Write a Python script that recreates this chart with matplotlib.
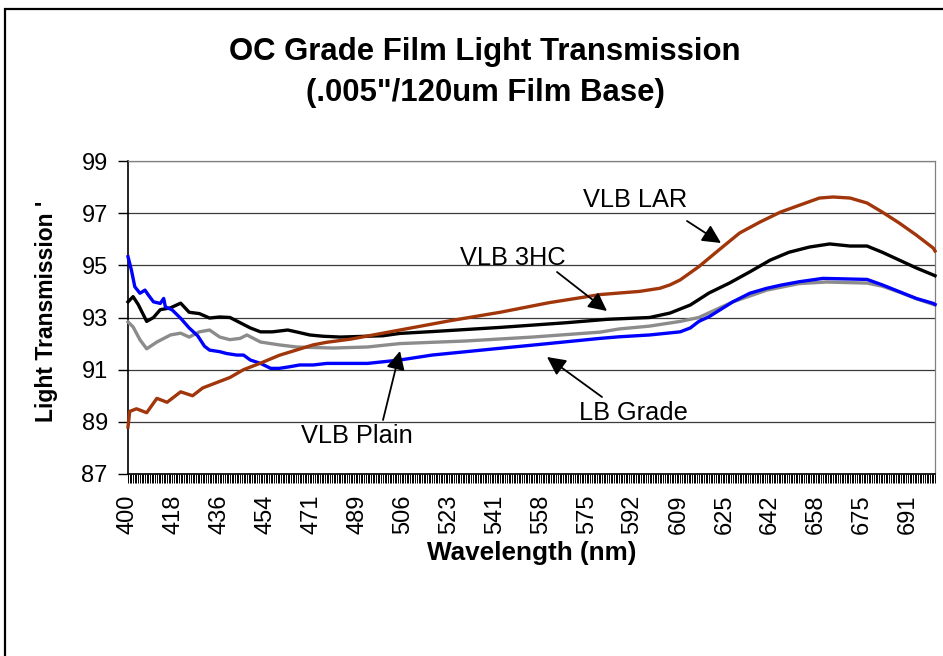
import numpy as np
import matplotlib
matplotlib.use("Agg")
import matplotlib.pyplot as plt
from matplotlib.patches import Rectangle

plt.rcParams['font.family'] = ['Liberation Sans', 'DejaVu Sans']

# ---- data (sample index along the category axis, transmission %) ----
tick_labels = [400, 418, 436, 454, 471, 489, 506, 523, 541, 558, 575, 592,
               609, 625, 642, 658, 675, 691]
samples_per_label = 27
n_samples = 476

lar_idx = [0, 1, 5, 11, 17, 23, 31, 38, 44, 52, 60, 68, 78, 89, 99, 109, 117, 131,
           160, 189, 219, 248, 278, 301, 313, 319, 325, 336, 348, 360, 372, 384,
           395, 407, 415, 425, 435, 444, 454, 464, 474, 475]
lar_val = [88.8, 89.4, 89.5, 89.35, 89.9, 89.75, 90.15, 90.0, 90.3, 90.5, 90.7,
           91.0, 91.25, 91.55, 91.75, 91.95, 92.05, 92.17, 92.52, 92.87, 93.2,
           93.57, 93.88, 94.0, 94.12, 94.25, 94.44, 94.95, 95.6, 96.24, 96.66,
           97.04, 97.3, 97.58, 97.62, 97.58, 97.39, 97.04, 96.62, 96.16, 95.66, 95.55]

hc3_idx = [0, 3, 6, 11, 15, 19, 25, 31, 36, 42, 48, 54, 60, 66, 72, 78, 85, 94, 99,
           107, 115, 125, 150, 160, 179, 219, 258, 282, 307, 319, 331, 342, 354,
           366, 378, 389, 401, 413, 425, 435, 444, 454, 464, 474, 475]
hc3_val = [93.6, 93.8, 93.5, 92.85, 93.0, 93.3, 93.37, 93.55, 93.2, 93.15, 92.98,
           93.02, 93.0, 92.8, 92.6, 92.45, 92.45, 92.52, 92.45, 92.33, 92.28, 92.25,
           92.3, 92.39, 92.46, 92.62, 92.8, 92.93, 93.0, 93.17, 93.48, 93.94, 94.32,
           94.75, 95.2, 95.5, 95.7, 95.82, 95.74, 95.74, 95.5, 95.2, 94.9, 94.63, 94.6]

plain_idx = [0, 3, 7, 11, 17, 25, 31, 36, 42, 48, 54, 60, 66, 70, 78, 89, 99, 109,
             121, 141, 160, 199, 238, 278, 289, 307, 325, 336, 356, 376, 395, 411,
             435, 444, 454, 464, 474, 475]
plain_val = [92.83, 92.64, 92.15, 91.8, 92.06, 92.33, 92.4, 92.25, 92.45, 92.52,
             92.25, 92.15, 92.2, 92.33, 92.06, 91.95, 91.87, 91.85, 91.83, 91.87,
             92.0, 92.1, 92.25, 92.44, 92.56, 92.67, 92.85, 93.0, 93.6, 94.05, 94.3,
             94.36, 94.32, 94.2, 93.97, 93.72, 93.5, 93.48]

lb_idx = [0, 2, 4, 7, 10, 12, 15, 19, 21, 22, 26, 31, 36, 41, 45, 48, 54, 58, 64,
          68, 72, 78, 84, 89, 95, 101, 109, 117, 141, 160, 179, 199, 219, 238, 258,
          278, 289, 307, 325, 331, 336, 342, 356, 366, 376, 385, 395, 409, 435, 444,
          454, 464, 474, 475]
lb_val = [95.33, 94.82, 94.18, 93.93, 94.05, 93.86, 93.6, 93.54, 93.73, 93.41,
          93.29, 92.97, 92.6, 92.3, 91.9, 91.75, 91.69, 91.62, 91.56, 91.56, 91.37,
          91.24, 91.05, 91.05, 91.11, 91.18, 91.18, 91.24, 91.24, 91.37, 91.56,
          91.69, 91.82, 91.94, 92.07, 92.2, 92.26, 92.33, 92.45, 92.6, 92.85, 93.03,
          93.6, 93.93, 94.12, 94.25, 94.37, 94.5, 94.46, 94.25, 93.99, 93.73, 93.54,
          93.5]

series = [
    ("VLB Plain", plain_idx, plain_val, "#8c8c8c"),
    ("VLB 3HC", hc3_idx, hc3_val, "#000000"),
    ("LB Grade", lb_idx, lb_val, "#0000ff"),
    ("VLB LAR", lar_idx, lar_val, "#a0360a"),
]

W, H = 943, 656
fig = plt.figure(figsize=(W / 100, H / 100), dpi=100)
fig.patch.set_facecolor("white")

# outer chart border (extends beyond right/bottom edge)
fig.patches.append(Rectangle((5 / W, -0.2), 1.2, 1 - 9 / H + 0.2,
                             transform=fig.transFigure, fill=False,
                             edgecolor="black", linewidth=1.6))

ax = fig.add_axes([128 / W, 1 - 474 / H, (935 - 128) / W, (474 - 161) / H])

for name, xi, yv, col in series:
    ax.plot(xi, yv, color=col, linewidth=2.4, solid_joinstyle="round",
            clip_on=False, zorder=3)

ax.set_xlim(0, n_samples - 1)
ax.set_ylim(87, 99)
ax.set_yticks(np.arange(87, 100, 2))
ax.yaxis.grid(True, color="#3a3a3a", linewidth=0.9)
ax.set_axisbelow(True)

major_pos = [i * samples_per_label for i in range(len(tick_labels))]
ax.set_xticks(major_pos)
ax.set_xticklabels([str(v) for v in tick_labels], rotation=90)
ax.set_xticks(np.arange(0, n_samples), minor=True)
ax.tick_params(axis="x", which="both", direction="out", length=6.5, width=0.7,
               color="black", labelsize=17, pad=8)
ax.tick_params(axis="y", direction="out", length=7, width=1.0, labelsize=17,
               pad=7.5)

ax.spines["left"].set_color("black")
ax.spines["left"].set_linewidth(1.2)
ax.spines["bottom"].set_color("black")
ax.spines["bottom"].set_linewidth(1.2)
ax.spines["top"].set_color("#808080")
ax.spines["right"].set_color("#808080")
ax.spines["top"].set_linewidth(0.9)
ax.spines["right"].set_linewidth(0.9)

# titles
fig.text(485 / W, 1 - 60 / H, "OC Grade Film Light Transmission",
         ha="center", va="baseline", fontsize=22.4, fontweight="bold")
fig.text(485 / W, 1 - 101 / H, "(.005\"/120um Film Base)",
         ha="center", va="baseline", fontsize=22.4, fontweight="bold")
fig.text(47 / W, 1 - 311 / H, "Light Transmission '", rotation=90,
         ha="center", va="center", fontsize=16.5, fontweight="bold")
fig.text(532 / W, 1 - 553 / H, "Wavelength (nm)", ha="center", va="center",
         fontsize=18.8, fontweight="bold")

# annotations (pixel positions converted to axes fractions)
def axfrac(px, py):
    return ((px - 128) / (935 - 128), (474 - py) / (474 - 161))

notes = [
    ("VLB LAR", (635, 200), (687, 221), (721, 243)),
    ("VLB 3HC", (513, 258), (557, 272), (607, 311)),
    ("LB Grade", (633, 413), (602, 397), (547, 357)),
    ("VLB Plain", (357, 436), (383, 420), (400, 351)),
]
for txt, tpos, tail, tip in notes:
    ax.text(*axfrac(*tpos), txt, transform=ax.transAxes, ha="center",
            va="center", fontsize=18.3, zorder=5)
    ax.annotate("", xy=axfrac(*tip), xycoords="axes fraction",
                xytext=axfrac(*tail), textcoords="axes fraction",
                arrowprops=dict(arrowstyle="-|>", color="black", lw=1.3,
                                mutation_scale=28, shrinkA=0, shrinkB=0),
                zorder=5)

fig.savefig("out.png", dpi=100)
